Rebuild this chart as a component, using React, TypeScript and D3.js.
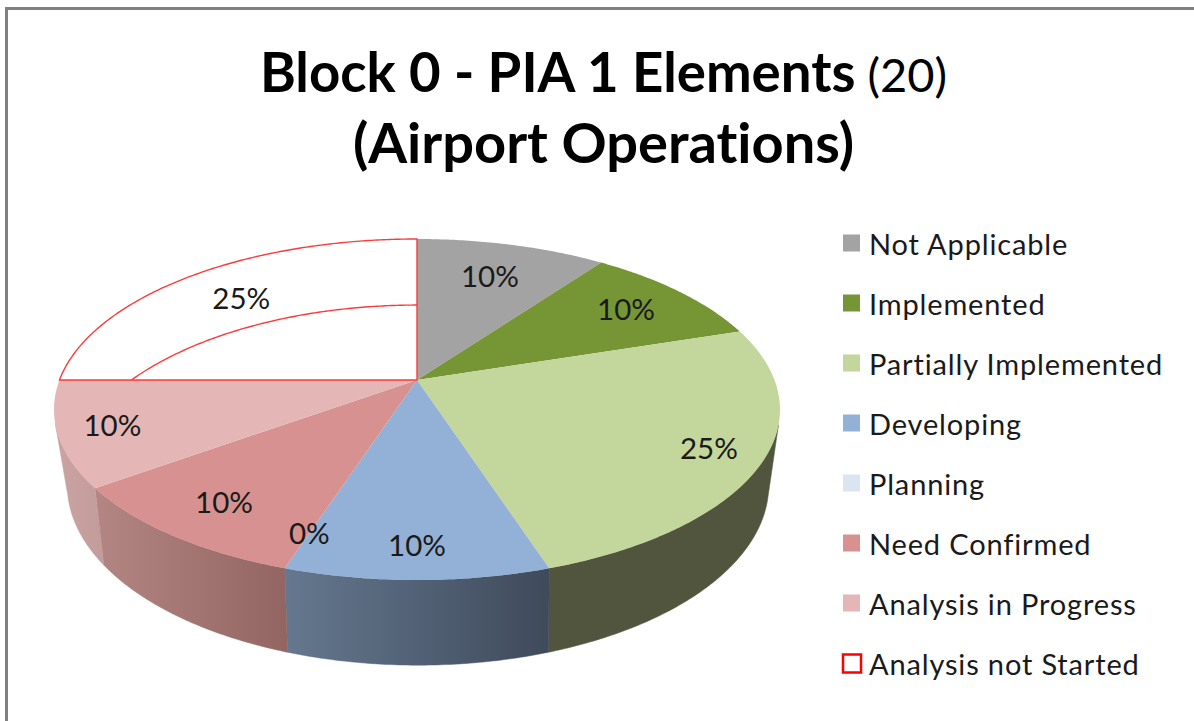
import React from "react";
import * as d3 from "d3";

const categories = ["Not Applicable", "Implemented", "Partially Implemented", "Developing", "Planning", "Need Confirmed", "Analysis in Progress", "Analysis not Started"];
const percentages = [10, 10, 25, 10, 0, 10, 10, 25];
const percentLabels = ["10%", "10%", "25%", "10%", "0%", "10%", "10%", "25%"];
const titleBold = "Block 0 - PIA 1 Elements";
const titleCount = "(20)";
const titleLine2 = "(Airport Operations)";

const topColors = ["#a3a3a3", "#769535", "#c3d69b", "#93b1d6", "#dbe5f1", "#d69190", "#e4b6b6", "#ffffff"];
const sideLeft = ["#777", "#555", "#51553d", "#65788f", "#8a9aa8", "#b38683", "#cba3a3", "#fff"];
const sideRight = ["#777", "#555", "#51553d", "#3f4a5b", "#8a9aa8", "#926563", "#c29b9b", "#fff"];
const labelRadius = [0.74, 0.78, 0.855, 0.855, 0.84, 0.814, 0.855, 0.76];

// Perspective of the pie's top and bottom faces.
const topFace = { cx: 417, cy: 380, a: 357.5, b: 165.4, k: 0.173 };
const bottomFace = { cx: 418, cy: 450, a: 344, b: 173.2, k: 0.195 };
type Face = typeof topFace;
const project = (f: Face, t: number, r = 1): [number, number] => {
  const u = r * Math.sin(t), v = r * Math.cos(t), w = 1 + f.k * v;
  return [f.cx + (f.a * u) / w, f.cy - (f.b * v) / w];
};

const arcs = d3.pie<number>().sort(null).value((d) => d)(percentages);
const line = d3.line();
const arcPts = (f: Face, t0: number, t1: number) => {
  const n = Math.max(1, Math.ceil(Math.abs(t1 - t0) / 0.01));
  return d3.range(n + 1).map((i) => project(f, t0 + ((t1 - t0) * i) / n));
};
const rad = (deg: number) => (deg * Math.PI) / 180;
const sideStart = rad(105);
const sideEnd = rad(255.5);
const innerStart = Math.PI * 2 - Math.acos(0.439);

const legendY = d3.scalePoint<string>().domain(categories).range([243, 663]);
const FONT = "Lato, 'Open Sans', sans-serif";
const noLig = { fontVariantLigatures: "none" } as React.CSSProperties;

export default function App() {
  return (
    <svg width={1194} height={721} style={{ position: "absolute", left: 0, top: 0, display: "block", background: "#fff" }}>
      <defs>
        {arcs.map((a, i) => {
          const t0 = Math.max(a.startAngle, sideStart), t1 = Math.min(a.endAngle, sideEnd);
          const pts = [...arcPts(topFace, t0, t1), ...arcPts(bottomFace, t0, t1)];
          const xs = d3.extent(pts, (p) => p[0]) as [number, number];
          return (
            <linearGradient key={i} id={`side${i}`} gradientUnits="userSpaceOnUse" x1={xs[0]} x2={xs[1]} y1={0} y2={0}>
              <stop offset="0" stopColor={sideLeft[i]} />
              <stop offset="1" stopColor={sideRight[i]} />
            </linearGradient>
          );
        })}
      </defs>
      <path d="M6.5 721 V8.5 H1194" fill="none" stroke="#808080" strokeWidth={3} />

      <text x={603.5} y={92} textAnchor="middle" fontFamily={FONT} fontSize={54.6} fontWeight={700} fill="#000" style={noLig}>
        {titleBold}
        <tspan fontSize={47} fontWeight={400}>{" " + titleCount}</tspan>
      </text>
      <text x={603.5} y={163} textAnchor="middle" fontFamily={FONT} fontSize={56} fontWeight={700} fill="#000" style={noLig}>{titleLine2}</text>

      {/* side wall */}
      {arcs.map((a, i) => {
        const t0 = Math.max(a.startAngle, sideStart), t1 = Math.min(a.endAngle, sideEnd);
        if (t1 <= t0) return null;
        const d = line([...arcPts(topFace, t0, t1), ...arcPts(bottomFace, t1, t0)]) + "Z";
        return <path key={i} d={d} fill={`url(#side${i})`} stroke={`url(#side${i})`} strokeWidth={0.5} />;
      })}

      {/* top face */}
      {arcs.map((a, i) => {
        if (a.endAngle <= a.startAngle || i === 7) return null;
        const d = line([[topFace.cx, topFace.cy], ...arcPts(topFace, a.startAngle, a.endAngle)]) + "Z";
        return <path key={i} d={d} fill={topColors[i]} />;
      })}

      {/* open wedge: outline with the far bottom edge visible */}
      {(() => {
        const a = arcs[7];
        const d = line([[topFace.cx, topFace.cy], ...arcPts(topFace, a.startAngle, a.endAngle)]) + "Z";
        return (
          <g fill="none" stroke="#fa3c3c" strokeWidth={1.4}>
            <path d={d} fill="#fff" />
            <path d={line(arcPts({ ...bottomFace, cx: 417, a: 345 }, innerStart, a.endAngle)) as string} />
          </g>
        );
      })()}

      {/* data labels */}
      {arcs.map((a, i) => {
        const [x, y] = project(topFace, (a.startAngle + a.endAngle) / 2, labelRadius[i]);
        return (
          <text key={i} x={x} y={y - 1} textAnchor="middle" dominantBaseline="central" fontFamily={FONT} fontSize={29.5} fill="#1a1a1a">
            {percentLabels[i]}
          </text>
        );
      })}

      {/* legend */}
      {categories.map((c, i) => {
        const y = legendY(c) as number;
        const open = i === 7;
        return (
          <g key={c}>
            <rect x={843} y={y - 8.5} width={open ? 18 : 17} height={open ? 18 : 17} fill={topColors[i]} stroke={open ? "#ff0000" : "none"} strokeWidth={open ? 2.5 : 0} />
            <text x={869} y={y} dominantBaseline="central" fontFamily={FONT} fontSize={29} letterSpacing={0.85} fill="#1a1a1a" style={noLig}>{c}</text>
          </g>
        );
      })}
    </svg>
  );
}
